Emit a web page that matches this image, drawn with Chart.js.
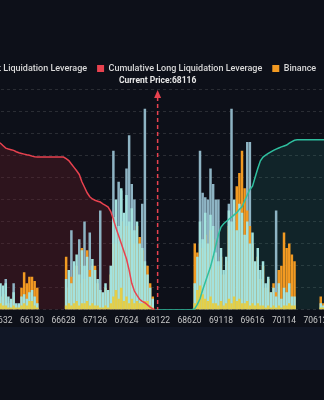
<!DOCTYPE html>
<html>
<head>
<meta charset="utf-8">
<title>Liquidation Map</title>
<script src="https://cdn.jsdelivr.net/npm/chart.js@4.4.1/dist/chart.umd.min.js"></script>
<style>
    html, body { margin: 0; padding: 0; width: 324px; height: 400px; overflow: hidden; background: #0d1019; }
    #band { position: absolute; left: 0; top: 327px; width: 324px; height: 43px; background: #111726; }
    #wrap { position: absolute; left: -90px; top: 0; width: 700px; height: 333px; }
</style>
</head>
<body>
<div id="band"></div>
<div id="wrap"><canvas id="liqChart"></canvas></div>
<script>
// price levels (bins) and labels shown on the axis
const priceStart = 65466;
const priceStep = 41.5;
const binCount = 132;
const tickLabels = ['65632', '66130', '66628', '67126', '67624', '68122', '68620', '69118', '69616', '70114', '70612'];
const currentPrice = 68116;

// liquidation leverage per exchange
const bybit = [
    8, 10, 6, 9, 12, 11, 12, 6, 5, 8, 3, 3,
    6, 7, 5, 8, 9, 6, 3, 0, 0, 0, 0, 0,
    0, 0, 0, 0, 0, 14, 18, 12, 22, 25, 16, 27,
    20, 24, 15, 23, 18, 14, 9, 8, 12, 9, 20, 42,
    50, 38, 55, 44, 52, 40, 46, 36, 40, 30, 28, 22,
    16, 10, 5, 0, 0, 0, 0, 0, 0, 0, 0, 0,
    0, 0, 0, 0, 0, 0, 12, 24, 40, 32, 44, 30,
    43, 38, 26, 22, 28, 18, 24, 45, 40, 50, 36, 48,
    44, 34, 40, 30, 35, 22, 28, 18, 22, 12, 15, 8,
    10, 6, 12, 5, 10, 8, 12, 6, 6, 0, 0, 0,
    0, 0, 0, 0, 0, 0, 3, 2, 4, 5, 3, 6
];
const okx = [
    2, 2, 1, 2, 3, 2, 2, 1, 1, 2, 1, 1,
    2, 3, 2, 4, 4, 2, 1, 0, 0, 0, 0, 0,
    0, 0, 0, 0, 0, 2, 3, 2, 3, 4, 2, 3,
    3, 4, 2, 3, 2, 2, 1, 1, 2, 1, 3, 6,
    9, 5, 10, 4, 6, 3, 5, 3, 4, 3, 3, 4,
    4, 2, 1, 0, 0, 0, 0, 0, 0, 0, 0, 0,
    0, 0, 0, 0, 0, 0, 3, 9, 11, 7, 5, 4,
    6, 3, 3, 2, 4, 2, 3, 5, 3, 6, 4, 5,
    3, 3, 4, 2, 3, 2, 3, 2, 2, 1, 2, 1,
    2, 1, 2, 1, 2, 2, 3, 2, 2, 0, 0, 0,
    0, 0, 0, 0, 0, 0, 1, 1, 1, 2, 1, 2
];
const binance = [
    6, 5, 8, 4, 6, 5, 7, 3, 4, 5, 2, 2,
    10, 17, 12, 15, 15, 13, 10, 0, 0, 0, 0, 0,
    0, 0, 0, 0, 0, 24, 10, 15, 18, 20, 12, 28,
    14, 27, 18, 20, 20, 12, 8, 6, 10, 8, 16, 30,
    36, 30, 40, 34, 38, 32, 36, 30, 38, 33, 27, 20,
    20, 12, 6, 0, 0, 0, 0, 0, 0, 0, 0, 0,
    0, 0, 0, 0, 0, 0, 30, 26, 30, 28, 34, 26,
    36, 32, 22, 20, 24, 16, 22, 38, 36, 44, 56, 62,
    72, 55, 45, 38, 30, 20, 24, 14, 20, 10, 14, 8,
    12, 8, 18, 20, 35, 28, 30, 25, 22, 0, 0, 0,
    0, 0, 0, 0, 0, 0, 6, 3, 5, 6, 4, 7
];
const bitget = [
    0, 0, 0, 0, 0, 0, 14, 0, 0, 12, 0, 0,
    0, 0, 0, 0, 0, 0, 0, 0, 0, 0, 0, 0,
    0, 0, 0, 0, 0, 0, 0, 36, 0, 0, 32, 0,
    40, 0, 35, 0, 0, 0, 45, 0, 0, 0, 0, 72,
    0, 58, 54, 0, 64, 79, 57, 50, 0, 0, 48, 91,
    0, 0, 0, 0, 0, 0, 0, 0, 0, 0, 0, 0,
    0, 0, 0, 0, 0, 0, 0, 0, 72, 53, 51, 50,
    64, 57, 50, 50, 0, 0, 0, 48, 91, 0, 0, 0,
    0, 0, 76, 76, 0, 0, 0, 0, 0, 0, 0, 0,
    0, 45, 0, 0, 0, 0, 0, 0, 0, 0, 0, 0,
    0, 0, 0, 0, 0, 0, 0, 0, 0, 0, 0, 0
];

// cumulative curves (right axis)
const cumLong = [
    77, 76.8, 76.4, 76, 75.4, 74.3, 73.2, 72.8, 72.5, 72.2, 71.6, 71.1,
    70.8, 70.5, 70.2, 70, 69.6, 69.3, 69.2, 69.2, 69.2, 69.2, 69.2, 69.2,
    69.2, 69.2, 69.2, 69.2, 69.2, 68.5, 67.6, 66, 64.5, 63, 61.3, 58,
    55.5, 53, 51.2, 50.2, 49.6, 49.2, 48.8, 48, 47.3, 46.5, 44.5, 41,
    37, 33.5, 30, 26.5, 23, 18, 12, 8.5, 6.5, 4.8, 3.8, 3.2,
    2.2, 1.2, 0.4, 0, null, null, null, null, null, null, null, null,
    null, null, null, null, null, null, null, null, null, null, null, null,
    null, null, null, null, null, null, null, null, null, null, null, null,
    null, null, null, null, null, null, null, null, null, null, null, null,
    null, null, null, null, null, null, null, null, null, null, null, null,
    null, null, null, null, null, null, null, null, null, null, null, null
];
const cumShort = [
    null, null, null, null, null, null, null, null, null, null, null, null,
    null, null, null, null, null, null, null, null, null, null, null, null,
    null, null, null, null, null, null, null, null, null, null, null, null,
    null, null, null, null, null, null, null, null, null, null, null, null,
    null, null, null, null, null, null, null, null, null, null, null, null,
    null, null, null, 0, 0, 0, 0, 0, 0, 0, 0, 0,
    0, 0, 0, 0, 0, 0, 0.5, 2.5, 5, 9, 12.5, 16,
    19.5, 24, 29, 34, 37.5, 39, 40, 41, 42, 43, 44, 45.5,
    46.6, 49.3, 52, 54.5, 56, 60, 64, 67.5, 69.2, 70, 70.8, 71.5,
    72.2, 72.8, 73.3, 73.8, 74.2, 74.6, 75.5, 76.2, 76.8, 77, 77, 77,
    77, 77, 77, 77, 77, 77, 77, 77, 77, 77, 77, 77
];

const categories = [];
for (let i = 0; i < binCount; i++) {
    categories.push(priceStart + priceStep * i);
}

// Adds some room under the legend for the current price caption
const legendGap = {
    id: 'legendGap',
    beforeInit(chart) {
        const fit = chart.legend.fit;
        chart.legend.fit = function() {
            fit.bind(chart.legend)();
            this.height += 6;
        };
    }
};

// Dashed marker for the current price
const currentPriceLine = {
    id: 'currentPriceLine',
    afterDatasetsDraw(chart) {
        const { ctx, chartArea, scales } = chart;
        const x = scales.x.getPixelForValue((currentPrice - priceStart) / priceStep);
        const top = chartArea.top + 1;
        ctx.save();
        ctx.strokeStyle = '#e8424f';
        ctx.lineWidth = 1.5;
        ctx.setLineDash([4, 3]);
        ctx.beginPath();
        ctx.moveTo(x, top + 7);
        ctx.lineTo(x, chartArea.bottom);
        ctx.stroke();
        ctx.setLineDash([]);
        ctx.fillStyle = '#e8424f';
        ctx.beginPath();
        ctx.moveTo(x, top);
        ctx.lineTo(x - 3.5, top + 8);
        ctx.lineTo(x + 3.5, top + 8);
        ctx.closePath();
        ctx.fill();
        ctx.fillStyle = '#e6e6e6';
        ctx.font = 'bold 8.5px Roboto';
        ctx.textAlign = 'center';
        ctx.textBaseline = 'middle';
        ctx.fillText('Current Price:' + currentPrice, x, chartArea.top - 8);
        ctx.restore();
    }
};

const ctx = document.getElementById('liqChart').getContext('2d');
const liqChart = new Chart(ctx, {
    data: {
        labels: categories,
        datasets: [
            {
                type: 'line',
                label: 'Cumulative Short Liquidation Leverage',
                data: cumShort,
                yAxisID: 'y1',
                borderColor: '#2fbf9f',
                backgroundColor: 'rgba(40, 160, 140, 0.14)',
                fill: 'origin',
                borderWidth: 1.5,
                pointRadius: 0,
                order: 0
            },
            {
                type: 'line',
                label: 'Cumulative Long Liquidation Leverage',
                data: cumLong,
                yAxisID: 'y1',
                borderColor: '#e8424f',
                backgroundColor: 'rgba(120, 30, 40, 0.3)',
                fill: 'origin',
                borderWidth: 1.5,
                pointRadius: 0,
                order: 0
            },
            {
                type: 'bar',
                label: 'Binance',
                data: binance,
                backgroundColor: '#f29a22',
                borderColor: '#f29a22',
                order: 3
            },
            {
                type: 'bar',
                label: 'OKX',
                data: okx,
                backgroundColor: '#e3cf48',
                borderColor: '#e3cf48',
                order: 1
            },
            {
                type: 'bar',
                label: 'Bybit',
                data: bybit,
                backgroundColor: '#a3e2de',
                borderColor: '#a3e2de',
                order: 2
            },
            {
                type: 'bar',
                label: 'Bitget',
                data: bitget,
                backgroundColor: '#8eb4c4',
                borderColor: '#8eb4c4',
                order: 4
            }
        ]
    },
    options: {
        responsive: true,
        maintainAspectRatio: false,
        animation: false,
        layout: { padding: { top: 54, bottom: 1 } },
        datasets: {
            bar: { grouped: false, barPercentage: 0.95, categoryPercentage: 1, borderWidth: 0 }
        },
        plugins: {
            filler: { drawTime: 'beforeDatasetsDraw' },
            tooltip: { enabled: false },
            legend: {
                align: 'start',
                labels: {
                    boxWidth: 7,
                    boxHeight: 7,
                    padding: 10,
                    color: '#d9d9d9',
                    font: { family: 'Roboto', size: 9, weight: '500' },
                    sort: (a, b) => a.datasetIndex - b.datasetIndex,
                    generateLabels(chart) {
                        const items = Chart.defaults.plugins.legend.labels.generateLabels(chart);
                        items.forEach(item => {
                            const ds = chart.data.datasets[item.datasetIndex];
                            item.fillStyle = ds.borderColor;
                            item.strokeStyle = ds.borderColor;
                            item.lineWidth = 0;
                        });
                        return items;
                    }
                }
            }
        },
        scales: {
            x: {
                grid: { display: false, drawTicks: false },
                border: { display: false },
                ticks: {
                    autoSkip: false,
                    maxRotation: 0,
                    padding: 6,
                    color: '#c8c8c8',
                    font: { family: 'Roboto', size: 8.5 },
                    callback: function(value, index) {
                        const label = String(categories[index]);
                        return tickLabels.includes(label) ? label : null;
                    }
                }
            },
            y: {
                position: 'left',
                min: 0,
                max: 100,
                ticks: { display: false, stepSize: 10 },
                grid: { color: 'rgba(255, 255, 255, 0.12)', drawTicks: false },
                border: { display: false, dash: [3, 3] },
                afterFit: function(scale) { scale.width = 78.7; }
            },
            y1: {
                position: 'right',
                min: 0,
                max: 100,
                ticks: { display: false },
                grid: { display: false },
                border: { display: false },
                afterFit: function(scale) { scale.width = 274.8; }
            }
        }
    },
    plugins: [legendGap, currentPriceLine]
});
</script>
</body>
</html>
